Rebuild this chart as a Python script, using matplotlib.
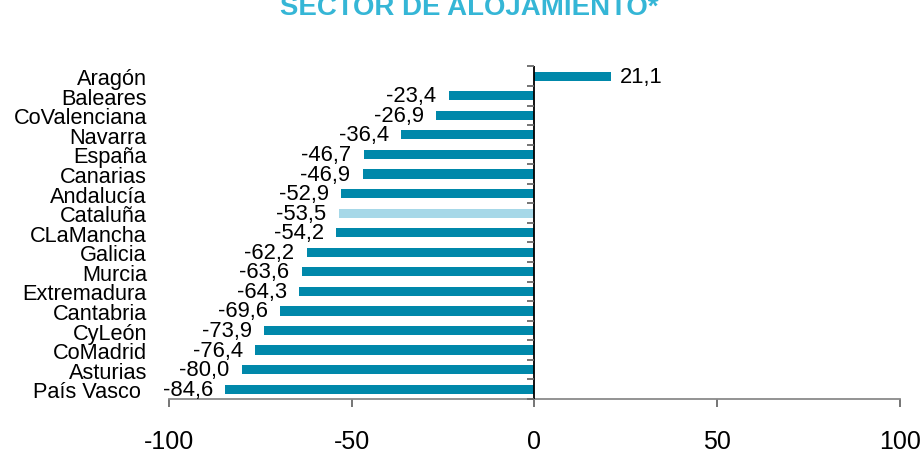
import matplotlib
matplotlib.use("Agg")
import matplotlib.pyplot as plt
from matplotlib.markers import TICKLEFT
import numpy as np

categories = ["Aragón", "Baleares", "CoValenciana", "Navarra", "España", "Canarias",
              "Andalucía", "Cataluña", "CLaMancha", "Galicia", "Murcia", "Extremadura",
              "Cantabria", "CyLeón", "CoMadrid", "Asturias", "País Vasco "]
values = [21.1, -23.4, -26.9, -36.4, -46.7, -46.9, -52.9, -53.5, -54.2, -62.2,
          -63.6, -64.3, -69.6, -73.9, -76.4, -80.0, -84.6]
value_labels = ["21,1", "-23,4", "-26,9", "-36,4", "-46,7", "-46,9", "-52,9", "-53,5",
                "-54,2", "-62,2", "-63,6", "-64,3", "-69,6", "-73,9", "-76,4", "-80,0", "-84,6"]
highlight = "Cataluña"
xticks = [-100, -50, 0, 50, 100]
title = "SECTOR DE ALOJAMIENTO*"

plt.rcParams['font.family'] = ['Liberation Sans', 'DejaVu Sans']

W, H = 921, 452
fig = plt.figure(figsize=(W / 100, H / 100), dpi=100)
left, right = 169 / W, 899.6 / W
bottom, top = 1 - 400 / H, 1 - 67.4 / H
ax = fig.add_axes([left, bottom, right - left, top - bottom])

main_color = "#0088AA"
hl_color = "#A6D8E8"
colors = [hl_color if c == highlight else main_color for c in categories]
y = np.arange(len(categories))
ax.barh(y, values, height=0.47, color=colors, zorder=2)

ax.set_xlim(-100, 100)
ax.set_ylim(len(categories) - 0.5, -0.5)

for yi, v, lab in zip(y, values, value_labels):
    if v >= 0:
        ax.annotate(lab, (v, yi), xytext=(6, 0), textcoords="offset points",
                    ha="left", va="center", fontsize=15.8, color="black")
    else:
        ax.annotate(lab, (v, yi), xytext=(-9, 0), textcoords="offset points",
                    ha="right", va="center", fontsize=15.8, color="black")

for s in ["top", "right", "left"]:
    ax.spines[s].set_visible(False)
ax.spines["bottom"].set_color("#8a8a8a")
ax.spines["bottom"].set_linewidth(1.3)

ax.set_xticks(xticks)
ax.set_xticklabels([str(t) for t in xticks], fontsize=18)
ax.tick_params(axis="x", direction="out", length=5.5, width=1.3, color="#6a6a6a", pad=16)
for t, val in zip(ax.xaxis.get_major_ticks(), xticks):
    if val == 0:
        t.tick1line.set_color("black")

ax.set_yticks(y)
ax.set_yticklabels(categories, fontsize=15.7)
ax.tick_params(axis="y", length=0, pad=15.8)

# category axis drawn at zero: vertical line with boundary ticks pointing left
ax.axvline(0, color="black", linewidth=1.3, zorder=3)
boundaries = np.arange(-0.5, len(categories), 1.0)
ax.plot(np.zeros_like(boundaries), boundaries, linestyle="none", marker=TICKLEFT,
        markersize=5.2, markeredgewidth=1.3, color="#6a6a6a", clip_on=False, zorder=3)

fig.text(469 / W, 1 - 15 / H, title, ha="center", va="baseline", fontsize=19.9,
         fontweight="bold", color="#35B6D6")

fig.savefig("out.png", dpi=100)
